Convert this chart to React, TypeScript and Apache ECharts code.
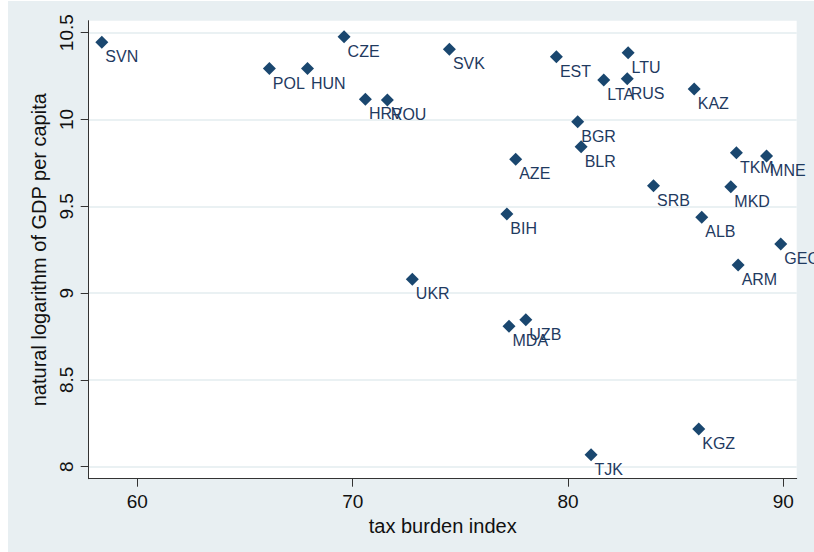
import React, { useEffect, useRef } from "react";
import * as echarts from "echarts";

const codes = ["SVN","POL","HUN","CZE","HRV","ROU","SVK","EST","LTU","LTA","RUS","KAZ","BGR","BLR","AZE","TKM","MNE","SRB","MKD","BIH","ALB","GEO","ARM","UKR","MDA","UZB","KGZ","TJK"];
const taxBurden = [58.35,66.13,67.90,69.60,70.59,71.61,74.49,79.46,82.79,81.66,82.75,85.86,80.45,80.61,77.57,87.82,89.22,83.97,87.56,77.16,86.21,89.88,87.90,72.77,77.26,78.04,86.07,81.07];
const lnGdp = [10.445,10.293,10.293,10.477,10.116,10.112,10.404,10.362,10.385,10.228,10.235,10.176,9.987,9.843,9.771,9.809,9.790,9.619,9.613,9.456,9.437,9.283,9.162,9.080,8.809,8.847,8.217,8.069];
const xTicks = [60, 70, 80, 90];
const yTicks = [8, 8.5, 9, 9.5, 10, 10.5];

const FONT = "'Liberation Sans', Arial, Helvetica, sans-serif";
const BG = "#e8eff2";
const NAVY = "#1a476f";
const LABEL = "#1f3a5f";

export default function App() {
  const ref = useRef<HTMLDivElement>(null);
  useEffect(() => {
    if (!ref.current) return;
    const chart = echarts.init(ref.current, undefined, { renderer: "svg" });
    const data = codes.map((c, i) => ({ value: [taxBurden[i], lnGdp[i]], name: c }));
    chart.setOption({
      animation: false,
      backgroundColor: BG,
      textStyle: { fontFamily: FONT },
      grid: {
        left: 80.7, top: 19.7, right: 17.3, bottom: 73.3,
        show: true, backgroundColor: "#ffffff", borderWidth: 0,
      },
      xAxis: {
        type: "value",
        min: 57.74, max: 90.62,
        name: "tax burden index",
        nameLocation: "middle",
        nameGap: 32,
        nameTextStyle: { fontSize: 20, color: "#111", fontFamily: FONT },
        axisLine: { show: true, onZero: false, lineStyle: { color: "#333", width: 1 } },
        axisTick: { show: true, length: 8, customValues: xTicks, lineStyle: { color: "#333" } },
        axisLabel: { show: true, customValues: xTicks, margin: 13, fontSize: 19, color: "#111", fontFamily: FONT },
        splitLine: { show: false },
      },
      yAxis: {
        type: "value",
        min: 7.931, max: 10.569,
        name: "natural logarithm of GDP per capita",
        nameLocation: "middle",
        nameGap: 34,
        nameTextStyle: { fontSize: 20, color: "#111", fontFamily: FONT },
        axisLine: { show: true, onZero: false, lineStyle: { color: "#333", width: 1 } },
        axisTick: { show: true, length: 8, customValues: yTicks, lineStyle: { color: "#333" } },
        axisLabel: { show: true, customValues: yTicks, rotate: 90, margin: 13, fontSize: 19, color: "#111", fontFamily: FONT },
        splitLine: { show: true, lineStyle: { color: "#e3ecef", width: 1.5 } },
      },
      series: [
        {
          type: "scatter",
          data,
          symbol: "diamond",
          symbolSize: 13,
          itemStyle: { color: NAVY, opacity: 1 },
          label: {
            show: true,
            formatter: (p: any) => p.name,
            position: [10, 21],
            align: "left",
            verticalAlign: "middle",
            fontSize: 16,
            color: LABEL,
            fontFamily: FONT,
          },
        },
      ],
    });
    return () => chart.dispose();
  }, []);
  return (
    <div
      ref={ref}
      style={{ position: "absolute", left: 8, top: 1, width: 806, height: 551 }}
    />
  );
}
